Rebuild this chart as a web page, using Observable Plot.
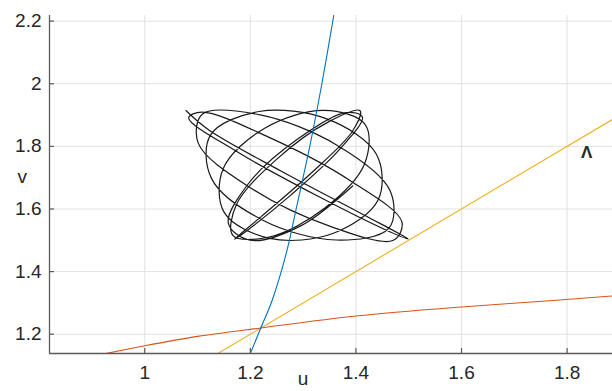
<!DOCTYPE html>
<html>
<head>
<meta charset="utf-8">
<script src="https://cdn.jsdelivr.net/npm/d3@7"></script>
<script src="https://cdn.jsdelivr.net/npm/@observablehq/plot@0.6"></script>
<style>
  html, body { margin: 0; padding: 0; background: #fff; }
  #chart svg { display: block; }
</style>
</head>
<body>
<div id="chart"></div>
<script>
// ---- axes ----
const xDomain = [0.8196, 1.886];
const yDomain = [1.1384, 2.218];
const xTicks = [1, 1.2, 1.4, 1.6, 1.8];
const xTickLabels = ["1", "1.2", "1.4", "1.6", "1.8"];
const yTicks = [1.2, 1.4, 1.6, 1.8, 2, 2.2];
const yTickLabels = ["1.2", "1.4", "1.6", "1.8", "2", "2.2"];
const xLabel = "u";
const yLabel = "v";

// ---- blue curve ----
const blueU = [1.2000, 1.2198, 1.2414, 1.2698, 1.2868, 1.3126, 1.3355, 1.3580];
const blueV = [1.1384, 1.2200, 1.3085, 1.4700, 1.6000, 1.8000, 2.0000, 2.2180];

// ---- orange curve ----
const orangeU = [0.926, 1.000, 1.100, 1.220, 1.400, 1.600, 1.760, 1.886];
const orangeV = [1.1384, 1.163, 1.193, 1.220, 1.258, 1.287, 1.306, 1.322];

// ---- yellow line (v = u) ----
const yellowU = [1.1384, 1.886];
const yellowV = [1.1384, 1.886];

// ---- black trajectory (points read along the loops) ----
const blackU = [
  1.3938, 1.2973, 1.1995, 1.1584, 1.1973, 1.2903, 1.3801, 1.4122,
  1.3681, 1.2760, 1.1928, 1.1698, 1.2210, 1.3149, 1.3934, 1.4078,
  1.3481, 1.2502, 1.1739, 1.1669, 1.2357, 1.3399, 1.4165, 1.4177,
  1.3400, 1.2280, 1.1485, 1.1508, 1.2367, 1.3575, 1.4422, 1.4388,
  1.3462, 1.2162, 1.1245, 1.1264, 1.2237, 1.3624, 1.4625, 1.4646,
  1.3649, 1.2187, 1.1095, 1.1013, 1.2008, 1.3528, 1.4710, 1.4871,
  1.3902, 1.2345, 1.1081, 1.0833, 1.1751, 1.3320, 1.4652, 1.4991,
  1.4143, 1.2588, 1.1207, 1.0781
];
const blackV = [
  1.6735, 1.5477, 1.5001, 1.5539, 1.6830, 1.8241, 1.9080, 1.8939,
  1.7885, 1.6434, 1.5298, 1.5031, 1.5765, 1.7140, 1.8483, 1.9137,
  1.8782, 1.7592, 1.6148, 1.5158, 1.5106, 1.6018, 1.7447, 1.8694,
  1.9148, 1.8588, 1.7287, 1.5882, 1.5061, 1.5226, 1.6295, 1.7746,
  1.8869, 1.9113, 1.8360, 1.6978, 1.5643, 1.5009, 1.5387, 1.6590,
  1.8031, 1.9004, 1.9033, 1.8104, 1.6671, 1.5436, 1.5003, 1.5584,
  1.6895, 1.8295, 1.9096, 1.8909, 1.7825, 1.6373, 1.5265, 1.5043,
  1.5816, 1.7204, 1.8531, 1.9144
];

// ---- annotation ----
const annoText = ["Λ"];
const annoU = [1.837];
const annoV = [1.781];

const toPts = (us, vs) => us.map((u, i) => ({u, v: vs[i]}));

const axisColor = "#5a5a5a";
const gridColor = "#e2e2e2";
const textColor = "#262626";
const font = "'Liberation Sans', Arial, Helvetica, sans-serif";

const chart = Plot.plot({
  width: 612,
  height: 391,
  marginLeft: 49,
  marginRight: 0,
  marginTop: 15,
  marginBottom: 38,
  x: {domain: xDomain, axis: null},
  y: {domain: yDomain, axis: null},
  style: {fontFamily: font, background: "#fff", color: textColor, overflow: "visible"},
  marks: [
    // grid
    Plot.ruleX(xTicks, {x: d => d, stroke: gridColor, strokeWidth: 1}),
    Plot.ruleY(yTicks, {y: d => d, stroke: gridColor, strokeWidth: 1}),
    // curves
    Plot.line(toPts(blackU, blackV), {x: "u", y: "v", curve: "catmull-rom", stroke: "#1a1a1a", strokeWidth: 1.2, clip: true}),
    Plot.line(toPts(yellowU, yellowV), {x: "u", y: "v", stroke: "#EDB120", strokeWidth: 1.1, clip: true}),
    Plot.line(toPts(orangeU, orangeV), {x: "u", y: "v", curve: "monotone-x", stroke: "#D95319", strokeWidth: 1.1, clip: true}),
    Plot.line(toPts(blueU, blueV), {x: "u", y: "v", curve: "catmull-rom", stroke: "#0072BD", strokeWidth: 1.1, clip: true}),
    // axis lines
    Plot.ruleX([xDomain[0]], {x: d => d, stroke: axisColor, strokeWidth: 1.3}),
    Plot.ruleY([yDomain[0]], {y: d => d, stroke: axisColor, strokeWidth: 1.3}),
    // inward ticks
    Plot.ruleX(xTicks, {x: d => d, insetTop: 333, stroke: axisColor, strokeWidth: 1.2}),
    Plot.ruleY(yTicks, {y: d => d, insetRight: 558, stroke: axisColor, strokeWidth: 1.2}),
    // tick labels
    Plot.text(xTicks, {x: d => d, frameAnchor: "bottom", lineAnchor: "top", dy: 12,
      text: d => xTickLabels[xTicks.indexOf(d)], fontSize: 19, fill: textColor}),
    Plot.text(yTicks, {y: d => d, frameAnchor: "left", textAnchor: "end", dx: -8,
      text: d => yTickLabels[yTicks.indexOf(d)], fontSize: 19, fill: textColor}),
    // axis labels
    Plot.text([yLabel], {frameAnchor: "left", dx: -32, dy: -8, text: d => d, fontSize: 19, fill: textColor}),
    Plot.text([xLabel], {x: [1.2997], frameAnchor: "bottom", dy: 31, text: d => d, fontSize: 19, fill: textColor}),
    // annotation
    Plot.text(annoText, {x: (d, i) => annoU[i], y: (d, i) => annoV[i], text: d => d,
      fontSize: 17, fontWeight: "bold", fill: textColor})
  ]
});
document.getElementById("chart").appendChild(chart);
</script>
</body>
</html>
